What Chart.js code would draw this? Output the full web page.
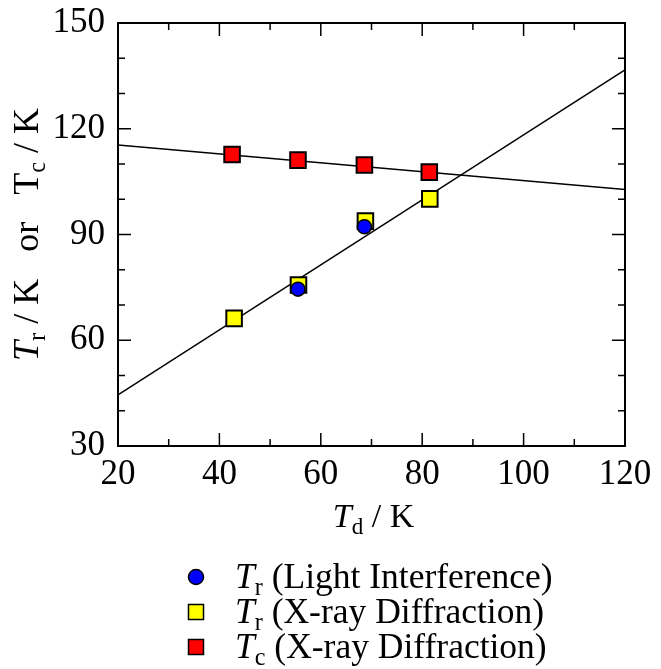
<!DOCTYPE html>
<html>
<head>
<meta charset="utf-8">
<script src="https://cdn.jsdelivr.net/npm/chart.js@4"></script>
<style>
html,body{margin:0;padding:0;background:#fff;}
#wrap{width:661px;height:669px;position:relative;}
</style>
</head>
<body>
<div id="wrap"><canvas id="c"></canvas></div>
<script>
// ---- data ----
const xTicks = [20, 40, 60, 80, 100, 120];
const yTicks = [30, 60, 90, 120, 150];

const lightTd = [55.5, 68.6];
const lightTr = [74.5, 92.2];

const xrayTrTd = [42.9, 55.6, 68.8, 81.5];
const xrayTr   = [66.2, 75.7, 93.8, 100.1];

const xrayTcTd = [42.5, 55.5, 68.6, 81.4];
const xrayTc   = [112.7, 111.1, 109.7, 107.7];

const fitX   = [20, 120];
const fitTr  = [44.5, 136.7];
const fitTc  = [115.4, 102.8];

const FONT = '"Liberation Serif", "Times New Roman", serif';

function pts(xs, ys) { return xs.map((x, i) => ({x: x, y: ys[i]})); }

function richWidth(ctx, segs, F) {
  let w = 0;
  for (const s of segs) {
    const size = s.sub ? F * 0.68 : F;
    ctx.font = (s.it ? 'italic ' : '') + size + 'px ' + FONT;
    w += ctx.measureText(s.t).width;
  }
  return w;
}
function drawRich(ctx, segs, x, y, F, align) {
  let w = richWidth(ctx, segs, F);
  let cx = align === 'center' ? x - w / 2 : x;
  ctx.textBaseline = 'alphabetic';
  ctx.textAlign = 'left';
  for (const s of segs) {
    const size = s.sub ? F * 0.68 : F;
    ctx.font = (s.it ? 'italic ' : '') + size + 'px ' + FONT;
    ctx.fillText(s.t, cx, s.sub ? y + F * 0.2 : y);
    cx += ctx.measureText(s.t).width;
  }
}

const frameTicks = {
  id: 'frameTicks',
  afterDatasetsDraw(chart) {
    const ctx = chart.ctx;
    const a = chart.chartArea;
    const xs = chart.scales.x, ys = chart.scales.y;
    ctx.save();
    ctx.strokeStyle = '#000';
    ctx.lineWidth = 1.5;
    ctx.beginPath();
    for (let v = 20; v <= 120; v += 10) {
      const px = xs.getPixelForValue(v);
      const len = (v % 20 === 0) ? 13 : 7;
      ctx.moveTo(px, a.bottom); ctx.lineTo(px, a.bottom - len);
      ctx.moveTo(px, a.top); ctx.lineTo(px, a.top + len);
    }
    for (let v = 30; v <= 150; v += 10) {
      const py = ys.getPixelForValue(v);
      const len = (v % 30 === 0) ? 13 : 7;
      ctx.moveTo(a.left, py); ctx.lineTo(a.left + len, py);
      ctx.moveTo(a.right, py); ctx.lineTo(a.right - len, py);
    }
    ctx.stroke();
    ctx.lineWidth = 2;
    ctx.strokeRect(a.left, a.top, a.right - a.left, a.bottom - a.top);
    ctx.restore();
  },
  afterDraw(chart) {
    const ctx = chart.ctx;
    const a = chart.chartArea;
    ctx.save();
    ctx.fillStyle = '#000';
    // x title
    drawRich(ctx, [{t:'T', it:true}, {t:'d', sub:true}, {t:' / K'}], (a.left + a.right) / 2 + 2, 527, 34, 'center');
    // y title
    ctx.save();
    ctx.translate(38, (a.top + a.bottom) / 2);
    ctx.rotate(-Math.PI / 2);
    drawRich(ctx, [{t:'T', it:true}, {t:'r', sub:true}, {t:' / K   or   T'}, {t:'c', sub:true}, {t:' / K'}], 0, 0, 36, 'center');
    ctx.restore();
    // legend
    const rows = [
      {y: 577, segs: [{t:'T', it:true}, {t:'r', sub:true}, {t:' (Light Interference)'}], kind: 'circle', color: '#0000ff'},
      {y: 612, segs: [{t:'T', it:true}, {t:'r', sub:true}, {t:' (X-ray Diffraction)'}], kind: 'rect', color: '#ffff00'},
      {y: 647, segs: [{t:'T', it:true}, {t:'c', sub:true}, {t:' (X-ray Diffraction)'}], kind: 'rect', color: '#ff0000'}
    ];
    for (const r of rows) {
      ctx.lineWidth = 1.5;
      ctx.strokeStyle = '#000';
      ctx.fillStyle = r.color;
      ctx.beginPath();
      if (r.kind === 'circle') ctx.arc(196, r.y, 7.5, 0, Math.PI * 2);
      else ctx.rect(196 - 7.5, r.y - 7.5, 15, 15);
      ctx.fill(); ctx.stroke();
      ctx.fillStyle = '#000';
      drawRich(ctx, r.segs, 235, r.y + 11, 35.5, 'left');
    }
    ctx.restore();
  }
};

new Chart(document.getElementById('c'), {
  type: 'scatter',
  data: {
    datasets: [
      {label: 'Tr (Light Interference)', data: pts(lightTd, lightTr), pointStyle: 'circle', pointRadius: 7, pointBackgroundColor: '#0000ff', pointBorderColor: '#000', pointBorderWidth: 1.5, order: 0},
      {label: 'Tc (X-ray Diffraction)', data: pts(xrayTcTd, xrayTc), pointStyle: 'rect', pointRadius: 11, pointBackgroundColor: '#ff0000', pointBorderColor: '#000', pointBorderWidth: 2, order: 1},
      {label: 'Tr (X-ray Diffraction)', data: pts(xrayTrTd, xrayTr), pointStyle: 'rect', pointRadius: 11, pointBackgroundColor: '#ffff00', pointBorderColor: '#000', pointBorderWidth: 2, order: 2},
      {label: 'fit Tr', data: pts(fitX, fitTr), showLine: true, pointRadius: 0, borderColor: '#000', borderWidth: 1.5, order: 3},
      {label: 'fit Tc', data: pts(fitX, fitTc), showLine: true, pointRadius: 0, borderColor: '#000', borderWidth: 1.5, order: 4}
    ]
  },
  options: {
    responsive: true,
    maintainAspectRatio: false,
    animation: false,
    layout: {padding: {top: 23, right: 36, left: 0, bottom: 0}},
    plugins: {legend: {display: false}, tooltip: {enabled: false}},
    scales: {
      x: {
        type: 'linear', min: 20, max: 120,
        afterBuildTicks: s => { s.ticks = xTicks.map(v => ({value: v})); },
        afterFit: s => { s.height = 223; s.paddingLeft = 0; s.paddingRight = 0; },
        grid: {display: false, drawTicks: false},
        border: {display: false},
        ticks: {color: '#000', font: {family: FONT, size: 35}, padding: 8, maxRotation: 0}
      },
      y: {
        type: 'linear', min: 30, max: 150,
        afterBuildTicks: s => { s.ticks = yTicks.map(v => ({value: v})); },
        afterFit: s => { s.width = 118; s.paddingTop = 0; s.paddingBottom = 0; },
        grid: {display: false, drawTicks: false},
        border: {display: false},
        ticks: {color: '#000', font: {family: FONT, size: 35}, padding: 13}
      }
    }
  },
  plugins: [frameTicks]
});
</script>
</body>
</html>
